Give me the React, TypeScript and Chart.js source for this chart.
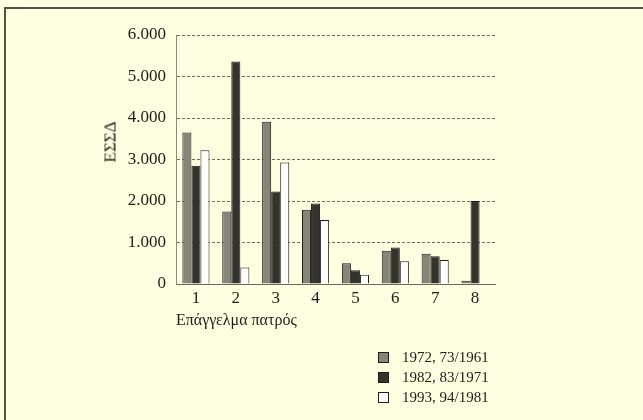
import React, { useEffect, useRef } from "react";
import { Chart, registerables } from "chart.js";

Chart.register(...registerables);

const categories = ["1", "2", "3", "4", "5", "6", "7", "8"];
const series1961 = [3650, 1750, 3910, 1790, 500, 800, 730, 80];
const series1971 = [2850, 5360, 2230, 1940, 330, 880, 670, 2000];
const series1981 = [3220, 400, 2930, 1540, 220, 550, 580, 0];
const seriesLabels = ["1972, 73/1961", "1982, 83/1971", "1993, 94/1981"];
const seriesColors = ["#85857a", "#34342e", "#ffffff"];
const yTickValues = [0, 1000, 2000, 3000, 4000, 5000, 6000];
const yTitle = "ΕΣΣΔ";
const xTitle = "Επάγγελμα πατρός";

const FONT = "'Liberation Serif', 'Times New Roman', serif";
const BG = "#fefee0";
const INK = "#1e1e1a";

function formatThousands(v: number): string {
  const s = String(Math.round(v));
  return s.replace(/\B(?=(\d{3})+(?!\d))/g, ".");
}

export default function App() {
  const canvasRef = useRef<HTMLCanvasElement | null>(null);

  useEffect(() => {
    const canvas = canvasRef.current;
    if (!canvas) return;
    const allSeries = [series1961, series1971, series1981];
    const chart = new Chart(canvas, {
      type: "bar",
      data: {
        labels: categories,
        datasets: allSeries.map((d, i) => ({
          label: seriesLabels[i],
          data: d,
          backgroundColor: seriesColors[i],
          borderColor: INK,
          borderWidth: 1,
          barPercentage: 1,
          categoryPercentage: 0.68,
        })),
      },
      options: {
        responsive: false,
        animation: false,
        devicePixelRatio: 1,
        layout: { padding: { left: 120, top: 35, right: 148, bottom: 86 } },
        plugins: {
          legend: { display: false },
          tooltip: { enabled: false },
        },
        scales: {
          x: {
            grid: { display: false, drawTicks: false },
            border: { display: true, color: "#6a6a60", width: 1 },
            ticks: {
              color: INK,
              padding: 4,
              font: { family: FONT, size: 17 },
            },
            title: {
              display: true,
              text: xTitle,
              align: "start",
              color: INK,
              padding: { top: 0, bottom: 4 },
              font: { family: FONT, size: 16 },
            },
            afterFit: (scale: any) => {
              scale.height = 50;
            },
          },
          y: {
            min: 0,
            max: 6000,
            grid: {
              color: "#6e6e64",
              lineWidth: 1,
              drawTicks: false,
            },
            border: { display: true, color: "#8a8a80", width: 1, dash: [3, 2] },
            ticks: {
              color: INK,
              padding: 10,
              font: { family: FONT, size: 17 },
              callback: (v: any) => formatThousands(Number(v)),
            },
            afterBuildTicks: (scale: any) => {
              scale.ticks = yTickValues.map((v) => ({ value: v }));
            },
            afterFit: (scale: any) => {
              scale.width = 56;
            },
          },
        },
      },
    });
    return () => chart.destroy();
  }, []);

  return (
    <div
      style={{
        position: "fixed",
        left: 0,
        top: 0,
        width: 643,
        height: 420,
        background: BG,
        overflow: "hidden",
        fontFamily: FONT,
        color: INK,
      }}
    >
      <div
        style={{
          position: "absolute",
          left: 4,
          top: 7,
          width: 800,
          height: 600,
          borderTop: "2px solid #55553f",
          borderLeft: "2px solid #55553f",
        }}
      />
      <canvas
        ref={canvasRef}
        width={643}
        height={420}
        style={{ position: "absolute", left: 0, top: 0, display: "block" }}
      />
      <div
        style={{
          position: "absolute",
          left: 110,
          top: 142,
          transform: "translate(-50%, -50%) rotate(-90deg)",
          fontSize: 17,
          whiteSpace: "nowrap",
          lineHeight: 1,
        }}
      >
        {yTitle}
      </div>
      <div style={{ position: "absolute", left: 378, top: 347 }}>
        {seriesLabels.map((lab, i) => (
          <div
            key={lab}
            style={{ display: "flex", alignItems: "center", height: 20 }}
          >
            <span
              style={{
                width: 9,
                height: 9,
                border: "1px solid " + INK,
                background: seriesColors[i],
                display: "inline-block",
                marginRight: 13,
              }}
            />
            <span style={{ fontSize: 15, whiteSpace: "nowrap" }}>{lab}</span>
          </div>
        ))}
      </div>
    </div>
  );
}
